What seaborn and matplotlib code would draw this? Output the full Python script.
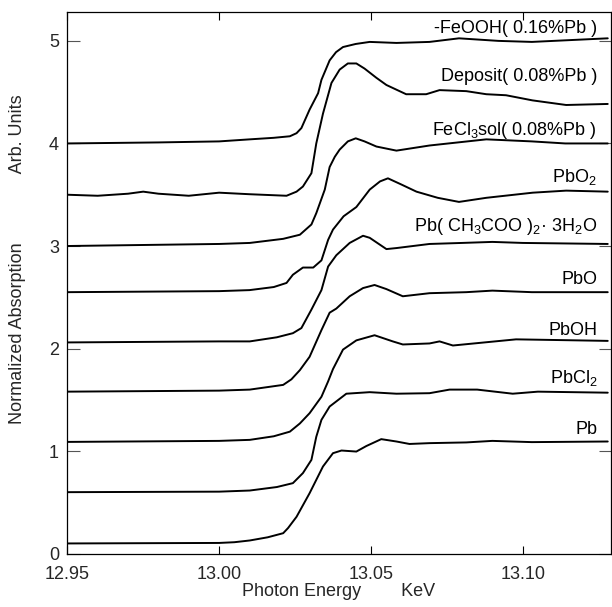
import matplotlib
matplotlib.use("Agg")
import matplotlib.pyplot as plt
import seaborn as sns
import pandas as pd

# ---------------- data ----------------
feooh_e = [12.95, 12.98, 13.00, 13.0101, 13.018, 13.0233, 13.0255, 13.0271, 13.0298, 13.0326, 13.0337,
           13.0364, 13.0385, 13.0408, 13.045, 13.0496, 13.0584, 13.0693, 13.079, 13.092, 13.103, 13.128]
feooh_v = [4.00, 4.01, 4.02, 4.04, 4.055, 4.07, 4.10, 4.15, 4.33, 4.49, 4.62,
           4.81, 4.89, 4.94, 4.97, 4.99, 4.98, 4.99, 5.025, 5.00, 4.99, 5.025]

deposit_e = [12.95, 12.96, 12.97, 12.975, 12.98, 12.99, 13.00, 13.01, 13.0222, 13.0255, 13.0276, 13.0304,
             13.032, 13.0342, 13.037, 13.0397, 13.0424, 13.0452, 13.0479, 13.0518, 13.0551,
             13.0616, 13.0682, 13.0726, 13.0814, 13.088, 13.0945, 13.1032, 13.1143, 13.128]
deposit_v = [3.50, 3.49, 3.51, 3.53, 3.51, 3.49, 3.52, 3.505, 3.49, 3.53, 3.58, 3.71,
             4.00, 4.29, 4.59, 4.72, 4.78, 4.78, 4.73, 4.64, 4.57,
             4.48, 4.48, 4.52, 4.51, 4.48, 4.47, 4.42, 4.375, 4.385]

fecl3_e = [12.95, 13.00, 13.0101, 13.0211, 13.0266, 13.0304, 13.032, 13.0348, 13.0364, 13.0381,
           13.0397, 13.0424, 13.045, 13.0479, 13.0518, 13.0584, 13.0693, 13.088, 13.103, 13.114, 13.128]
fecl3_v = [3.00, 3.02, 3.03, 3.07, 3.11, 3.21, 3.32, 3.55, 3.77, 3.87,
           3.94, 4.02, 4.05, 4.02, 3.97, 3.93, 3.98, 4.04, 4.02, 4.00, 4.00]

pbo2_e = [12.95, 13.00, 13.01, 13.018, 13.0222, 13.0243, 13.0276, 13.031, 13.0337, 13.0359, 13.0375,
          13.041, 13.0452, 13.0496, 13.053, 13.0556, 13.06, 13.065, 13.072, 13.079, 13.088,
          13.1033, 13.1143, 13.128]
pbo2_v = [2.55, 2.56, 2.57, 2.60, 2.64, 2.72, 2.79, 2.79, 2.86, 3.06, 3.16,
          3.29, 3.38, 3.55, 3.63, 3.66, 3.60, 3.53, 3.47, 3.43, 3.47,
          3.52, 3.54, 3.53]

acet_e = [12.95, 13.00, 13.0101, 13.019, 13.0243, 13.0271, 13.0304, 13.0337, 13.0359, 13.0386, 13.043,
          13.0474, 13.0496, 13.0551, 13.0584, 13.0693, 13.08, 13.09, 13.10, 13.128]
acet_v = [2.06, 2.07, 2.07, 2.11, 2.15, 2.20, 2.38, 2.57, 2.80, 2.91, 3.03,
          3.10, 3.08, 2.97, 2.98, 3.02, 3.03, 3.04, 3.03, 3.02]

pbo_e = [12.95, 13.00, 13.0101, 13.0211, 13.0238, 13.0266, 13.0298, 13.0337, 13.0364, 13.0386,
         13.043, 13.0474, 13.0512, 13.0551, 13.0605, 13.0693, 13.0814, 13.090, 13.103, 13.128]
pbo_v = [1.58, 1.59, 1.60, 1.646, 1.70, 1.79, 1.92, 2.18, 2.35, 2.39,
         2.51, 2.59, 2.62, 2.58, 2.51, 2.54, 2.55, 2.565, 2.55, 2.55]

pboh_e = [12.95, 13.00, 13.0101, 13.018, 13.0233, 13.0266, 13.0298, 13.0337, 13.0359, 13.0375, 13.0408,
          13.0452, 13.0512, 13.0572, 13.0605, 13.0693, 13.0726, 13.077, 13.0978, 13.128]
pboh_v = [1.09, 1.10, 1.11, 1.145, 1.19, 1.27, 1.37, 1.53, 1.68, 1.80, 1.99,
          2.08, 2.13, 2.07, 2.04, 2.05, 2.07, 2.03, 2.09, 2.075]

pbcl2_e = [12.95, 13.00, 13.0101, 13.019, 13.0243, 13.0276, 13.0304, 13.032, 13.0337, 13.0364, 13.0419,
           13.0496, 13.0584, 13.0693, 13.0759, 13.085, 13.0967, 13.105, 13.128]
pbcl2_v = [0.60, 0.605, 0.616, 0.65, 0.688, 0.786, 0.915, 1.14, 1.305, 1.435, 1.56,
           1.575, 1.56, 1.565, 1.60, 1.60, 1.56, 1.58, 1.57]

pb_e = [12.95, 13.00, 13.005, 13.0101, 13.016, 13.0211, 13.0227, 13.0255, 13.0298, 13.0342, 13.0375,
        13.0403, 13.0452, 13.0485, 13.0534, 13.0584, 13.0627, 13.0693, 13.0814, 13.090, 13.103, 13.128]
pb_v = [0.10, 0.105, 0.112, 0.129, 0.16, 0.20, 0.25, 0.36, 0.59, 0.85, 0.98,
        1.006, 0.996, 1.05, 1.117, 1.094, 1.07, 1.078, 1.085, 1.10, 1.088, 1.094]

labels = [r"-FeOOH( 0.16%Pb )", r"Deposit( 0.08%Pb )", r"FeCl$_3$sol( 0.08%Pb )", r"PbO$_2$",
          r"Pb( CH$_3$COO )$_2$· 3H$_2$O", "PbO", "PbOH", r"PbCl$_2$", "Pb"]
label_y = [5.12, 4.65, 4.13, 3.67, 3.19, 2.67, 2.18, 1.71, 1.21]

x_ticks = [12.95, 13.00, 13.05, 13.10]
x_ticklabels = ["12.95", "13.00", "13.05", "13.10"]
y_ticks = [0, 1, 2, 3, 4, 5]

series = [(feooh_e, feooh_v), (deposit_e, deposit_v), (fecl3_e, fecl3_v), (pbo2_e, pbo2_v),
          (acet_e, acet_v), (pbo_e, pbo_v), (pboh_e, pboh_v), (pbcl2_e, pbcl2_v), (pb_e, pb_v)]

# ---------------- style ----------------
sns.set_theme(style="ticks")
plt.rcParams["font.family"] = ["Liberation Sans", "DejaVu Sans"]
plt.rcParams["mathtext.fontset"] = "custom"
plt.rcParams["mathtext.rm"] = "Liberation Sans"
plt.rcParams["mathtext.it"] = "Liberation Sans"
plt.rcParams["mathtext.bf"] = "Liberation Sans:bold"

fig = plt.figure(figsize=(6.12, 6.07), dpi=100)
ax = fig.add_axes([0.110, 0.0878, 0.888, 0.893])

for e, v in series:
    df = pd.DataFrame({"energy": e, "absorption": v})
    sns.lineplot(data=df, x="energy", y="absorption", sort=False, color="black",
                 linewidth=1.4, ax=ax, estimator=None)

for lab, ly in zip(labels, label_y):
    ax.text(13.1245, ly, lab, ha="right", va="center", fontsize=13, color="black")

ax.set_xlim(12.95, 13.129)
ax.set_ylim(0, 5.285)
ax.set_xticks(x_ticks)
ax.set_xticklabels(x_ticklabels)
ax.set_yticks(y_ticks)
ax.set_yticklabels([str(t) for t in y_ticks])

ax.tick_params(axis="x", direction="in", length=6, width=0.8, top=True, bottom=True,
               labelsize=13, pad=9, color="black")
ax.tick_params(axis="y", direction="in", length=9, width=0.8, left=True, right=True,
               labelsize=13, pad=6, color="#555555")
for s in ax.spines.values():
    s.set_linewidth(0.9)
    s.set_color("black")

ax.set_xlabel("Photon Energy        KeV", fontsize=13, va="center")
ax.set_ylabel("Normalized Absorption              Arb. Units", fontsize=13)
ax.xaxis.set_label_coords(0.5, -0.07)
ax.yaxis.set_label_coords(-0.076, 0.543)

fig.savefig("out.png", dpi=100)
